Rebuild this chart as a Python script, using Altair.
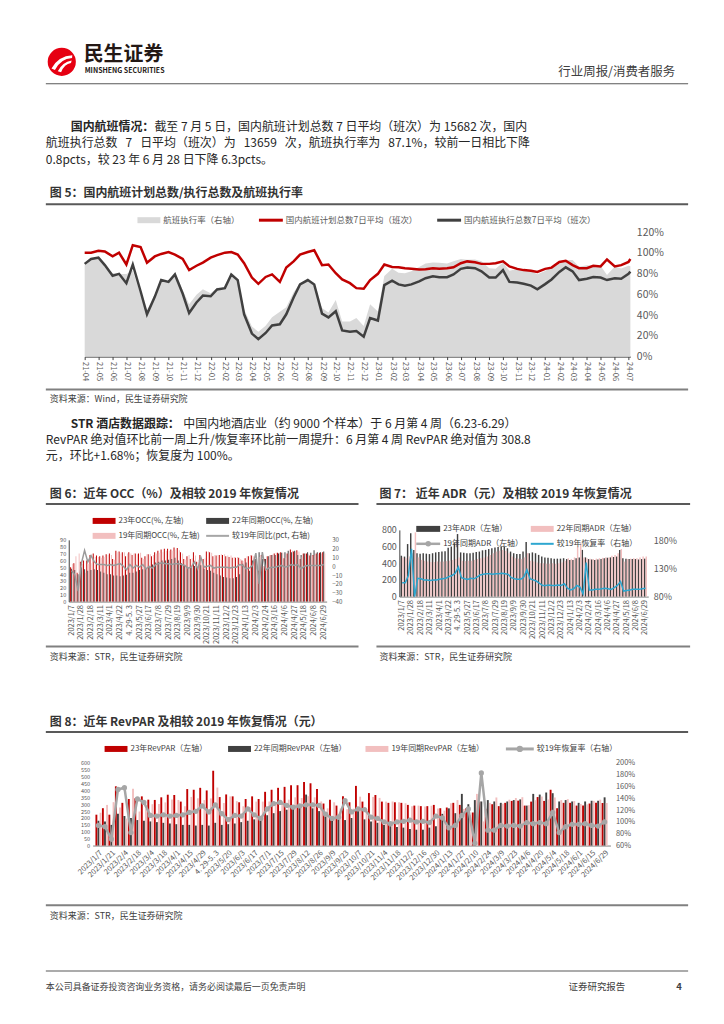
import altair as alt
import pandas as pd

FONT = "Noto Sans CJK SC"
RED = "#C00000"
DARK = "#404040"
PINK = "#F2BFBF"
LGRAY = "#D9D9D9"
LINEGRAY = "#A6A6A6"
BLUE = "#2EA7D0"
TXT = "#262626"
AX = "#595959"
SP = "\u00a0"
NOVIEW = alt.ViewBackground(stroke="transparent", strokeWidth=0, fill="transparent")

# ---------------- Figure 5 data (semi-monthly readings) ----------------
f5_dates = [d.strftime("%Y-%m-%d") for d in pd.date_range("2021-04-01", periods=79, freq="SMS")] + ["2024-07-05"]
f5_plan = [16700, 16700, 17000, 16900, 16100, 16700, 14800, 17900, 17600, 15100,
           16100, 16500, 16800, 16400, 15700, 13900, 14600, 15100, 15900, 16300,
           16700, 16800, 16400, 15000, 12700, 11700, 12800, 13200, 12000, 14300,
           15300, 16400, 16800, 17100, 14700, 14800, 13400, 12400, 11800, 11000,
           10900, 12300, 13300, 14800, 14400, 14350, 14200, 14100, 14000, 14050,
           14200, 14100, 14200, 14350, 15000, 15300, 15150, 14900, 14900, 15000,
           15300, 14500, 14100, 13900, 13800, 13600, 14100, 14300, 15200, 15400,
           14700, 14200, 14200, 14600, 14500, 15600, 14500, 14700, 15200, 15682]
f5_exec = [14900, 15700, 15900, 14700, 13000, 13300, 11800, 14800, 10500, 6800,
           9600, 12300, 12000, 13200, 10100, 7000, 8700, 9800, 9700, 10800,
           11000, 13200, 12300, 6800, 3700, 2800, 3800, 5000, 5200, 6800,
           9500, 11600, 12300, 11600, 6900, 6300, 7300, 4200, 4000, 4100,
           3200, 6200, 5800, 11500, 12200, 11600, 11400, 11600, 12100, 12600,
           12900, 12750, 12750, 13200, 14100, 14300, 14200, 13700, 12700, 12700,
           13900, 12000, 11900, 11700, 11400, 10800, 11650, 12400, 13600, 14350,
           13700, 12300, 12500, 12800, 12700, 12300, 12600, 12500, 13300, 13659]
f5_rate = [89.2, 94.0, 93.5, 87.0, 80.7, 79.6, 79.7, 82.7, 59.7, 45.0,
           59.6, 74.5, 71.4, 80.5, 64.3, 50.4, 59.6, 64.9, 61.0, 66.3,
           65.9, 78.6, 75.0, 45.3, 29.1, 23.9, 29.7, 37.9, 43.3, 47.6,
           62.1, 70.7, 73.2, 67.8, 46.9, 42.6, 54.5, 33.9, 33.9, 37.3,
           29.4, 50.4, 43.6, 77.7, 84.7, 80.8, 80.3, 82.3, 86.4, 89.7,
           90.8, 90.4, 89.8, 92.0, 94.0, 93.5, 93.7, 91.9, 85.2, 84.7,
           90.8, 82.8, 84.4, 84.2, 82.6, 79.4, 82.6, 86.7, 89.5, 93.2,
           93.2, 86.6, 88.0, 87.7, 87.6, 78.8, 86.9, 85.0, 87.5, 87.1]

# ---------------- weekly categories (Fig 6/7/8) ----------------
weeks = []
for i in range(79):
    if i < 18:
        d = pd.Timestamp("2023-01-07") + pd.Timedelta(days=7 * i)
    elif i == 18:
        d = None
    else:
        d = pd.Timestamp("2023-05-13") + pd.Timedelta(days=7 * (i - 19))
    weeks.append("4. 29-5. 3" if d is None else f"{d.year}/{d.month}/{d.day}")

# Fig 6 OCC (%)
occ23 = [50, 56, 42, 58, 60, 60, 68, 70, 67, 66, 67, 69, 70, 62, 74, 73, 72, 66, 72, 68,
         70, 70, 64, 66, 69, 66, 72, 74, 76, 77, 77, 76, 79, 78, 72, 62, 66, 62, 72, 58,
         68, 62, 73, 72, 66, 67, 68, 68, 66, 65, 64, 64, 64, 60, 63, 66, 67, 62, 45, 68,
         62, 66, 68, 70, 71, 72, 63, 70, 76, 73, 75, 62, 70, 70, 67, 68, 70, 71, 72]
occ22 = [48, 46, 40, 50, 47, 45, 46, 47, 46, 44, 42, 40, 40, 38, 38, 37, 38, 39, 42, 42,
         44, 46, 47, 49, 52, 54, 57, 58, 60, 60, 61, 62, 64, 60, 56, 52, 50, 50, 52, 50,
         53, 48, 46, 45, 42, 40, 38, 36, 35, 34, 34, 36, 40, 55, 57, 45, 60, 62, 72, 62,
         62, 66, 68, 68, 70, 71, 72, 74, 72, 74, 68, 68, 70, 72, 71, 75, 72, 72, 73]
occ19 = [55, 66, 70, 55, 42, 55, 56, 65, 65, 64, 65, 68, 68, 61, 72, 70, 72, 70, 70, 70,
         69, 71, 62, 69, 69, 68, 70, 71, 72, 74, 74, 74, 76, 75, 70, 61, 68, 63, 67, 61,
         58, 63, 73, 71, 68, 68, 69, 69, 67, 67, 65, 65, 62, 59, 66, 68, 66, 47, 65, 52,
         66, 68, 69, 71, 71, 71, 64, 70, 74, 72, 73, 65, 70, 69, 66, 67, 69, 70, 70]
occ_pct = [-5, -10, -28, 3, 18, 5, 12, 5, 2, 2, 2, 1, 2, 1, 2, 3, 0, -4, 2, -2,
           1, -1, 2, -3, 0, -2, 2, 3, 4, 3, 3, 2, 3, 3, 2, 1, -2, -1, 5, -3,
           10, -1, 0, 1, -2, -1, -1, -1, -1, -2, -1, -1, 2, 1, -3, -2, 1, 15, -20, 16,
           -4, -2, -1, -1, 0, 1, -1, 0, 2, 1, 2, -3, 0, 1, 1, 1, 1, 1, 2]

# Fig 7 ADR (yuan)
adr23 = [490, 480, 630, 760, 560, 520, 515, 520, 515, 510, 520, 530, 535, 540, 545, 585, 600, 640, 750, 530,
         525, 520, 520, 525, 535, 540, 555, 560, 570, 580, 590, 595, 600, 595, 580, 540, 520, 510, 510, 540,
         655, 520, 530, 520, 500, 480, 470, 465, 460, 455, 455, 455, 460, 450, 440, 440, 460, 470, 560, 470,
         450, 445, 440, 445, 450, 460, 465, 470, 475, 480, 560, 460, 455, 450, 450, 450, 445, 450, 455]
adr22 = [470, 460, 480, 520, 770, 470, 440, 430, 420, 415, 415, 420, 420, 420, 425, 430, 440, 450, 470, 430,
         425, 430, 430, 440, 450, 460, 470, 480, 500, 520, 540, 550, 560, 550, 520, 480, 460, 455, 450, 470,
         520, 430, 420, 410, 400, 400, 395, 395, 400, 395, 400, 410, 430, 460, 450, 470, 600, 640, 470, 460,
         455, 450, 455, 460, 465, 470, 470, 490, 500, 520, 570, 420, 450, 455, 460, 460, 470, 480, 480]
adr_rec = [105, 105, 118, 166, 80, 113, 112, 110, 110, 109, 110, 110, 111, 112, 113, 116, 118, 122, 133, 114,
           112, 111, 113, 112, 115, 119, 120, 121, 121, 120, 121, 121, 122, 121, 120, 114, 112, 111, 111, 115,
           128, 112, 110, 108, 104, 100, 100, 101, 100, 100, 101, 100, 103, 95, 92, 94, 100, 97, 85, 141,
           92, 92, 93, 93, 94, 95, 94, 93, 96, 100, 107, 90, 91, 92, 93, 93, 93, 94, 95]

# Fig 8 RevPAR (yuan)
rev23 = [224, 271, 224, 430, 310, 338, 343, 357, 333, 331, 350, 369, 367, 319, 410, 405, 419, 400, 543, 352,
         371, 357, 314, 338, 357, 338, 390, 405, 419, 426, 438, 438, 462, 452, 410, 305, 333, 290, 357, 314,
         433, 319, 381, 367, 319, 310, 314, 310, 295, 290, 286, 286, 295, 271, 276, 310, 295, 271, 240, 320,
         267, 300, 286, 310, 324, 326, 290, 319, 352, 324, 405, 271, 310, 310, 290, 290, 305, 310, 309]
rev22 = [180, 175, 150, 230, 215, 200, 185, 180, 175, 170, 165, 160, 155, 150, 150, 145, 150, 145, 165, 150,
         155, 160, 170, 180, 190, 200, 220, 235, 250, 260, 270, 280, 370, 270, 250, 210, 200, 190, 185, 200,
         250, 190, 175, 165, 150, 140, 135, 130, 120, 115, 115, 130, 140, 230, 270, 235, 375, 300, 330, 320,
         330, 320, 310, 320, 330, 335, 290, 375, 370, 385, 380, 320, 330, 320, 310, 320, 325, 325, 350]
rev19 = [238, 295, 315, 277, 196, 412, 247, 268, 300, 301, 313, 335, 331, 285, 353, 343, 330, 342, 421, 309,
         357, 322, 285, 277, 319, 319, 320, 309, 315, 333, 350, 345, 358, 350, 320, 270, 314, 269, 263, 268,
         355, 264, 353, 346, 319, 320, 314, 307, 286, 290, 283, 289, 268, 253, 307, 330, 266, 222, 375, 175,
         310, 349, 304, 333, 345, 351, 293, 329, 356, 334, 349, 330, 337, 323, 302, 299, 324, 333, 309]
rev_rec = [94, 92, 71, 155, 158, 82, 139, 133, 111, 110, 112, 110, 111, 112, 116, 118, 127, 117, 129, 114,
           104, 111, 110, 122, 112, 106, 122, 131, 133, 128, 125, 127, 129, 129, 128, 113, 106, 108, 136, 117,
           122, 121, 108, 106, 100, 97, 100, 101, 103, 100, 101, 99, 110, 107, 90, 94, 111, 122, 64, 183,
           86, 86, 94, 93, 94, 93, 99, 97, 99, 97, 116, 82, 92, 96, 96, 97, 94, 93, 100]

# ---------------- helpers for decorations ----------------
one = pd.DataFrame({"d": [0]})


def T(s, x, y, size=12.0, bold=False, color=TXT, align="left", ox=8, oy=8):
    return alt.Chart(one).mark_text(
        text=s, fontSize=size, fontWeight="bold" if bold else "normal", color=color,
        align=align, baseline="middle", font=FONT
    ).encode(x=alt.value(x - ox), y=alt.value(y - oy))


def HR(x1, x2, y, color=AX, w=1.0, ox=8, oy=8):
    return alt.Chart(one).mark_rule(color=color, strokeWidth=w).encode(
        x=alt.value(x1 - ox), x2=alt.value(x2 - ox), y=alt.value(y - oy))


def BOX(x1, x2, y1, y2, color, ox=8, oy=8):
    return alt.Chart(one).mark_rect(color=color).encode(
        x=alt.value(x1 - ox), x2=alt.value(x2 - ox), y=alt.value(y1 - oy), y2=alt.value(y2 - oy))


def DOT(x, y, size, color, shape="circle", ox=8, oy=8):
    return alt.Chart(one).mark_point(shape=shape, filled=True, color=color, size=size,
                                     opacity=1, strokeWidth=0).encode(
        x=alt.value(x - ox), y=alt.value(y - oy))


def spacer(w, h):
    return alt.Chart(one).mark_point(opacity=0).encode(
        x=alt.value(0), y=alt.value(0)).properties(width=w, height=h, view=NOVIEW)


LOGO_PATH = ("M -0.78 0.5 Q -0.25 -0.45 0.8 -0.5 L 0.78 -0.3 Q -0.1 -0.25 -0.52 0.62 Z "
             "M -0.3 0.72 Q 0.05 0.02 0.75 -0.1 L 0.7 0.08 Q 0.2 0.15 -0.05 0.78 Z")

line2 = (f"航班执行总数{SP*3}7{SP*3}日平均（班次）为{SP*3}13659{SP*3}次，航班执行率为{SP*3}87.1%，"
         f"较前一日相比下降")

page_layers = [
    DOT(59, 60, 800, "#E60012"),
    DOT(59, 60, 700, "white", shape=LOGO_PATH),
    T("民生证券", 81, 53, 20, bold=True, color="#231815"),
    T("MINSHENG SECURITIES", 82, 69, 7, bold=True, color="#231815"),
    T("行业周报/消费者服务", 675, 70, 12.5, color=DARK, align="right"),
    HR(43, 688, 82, "#595959", 1.2),
    T("国内航班情况：", 68, 125, 12, bold=True),
    T("截至 7 月 5 日，国内航班计划总数 7 日平均（班次）为 15682 次，国内", 152, 125, 12),
    T(line2, 43, 142, 12),
    T("0.8pcts，较 23 年 6 月 28 日下降 6.3pcts。", 43, 159, 12),
    T("图 5：国内航班计划总数/执行总数及航班执行率", 47, 192, 12, bold=True, color="#333333"),
    HR(43, 688, 203, "#595959", 2),
    BOX(135, 158, 216, 222, LGRAY),
    T("航班执行率（右轴）", 161, 219, 8.5, color=AX),
    HR(257, 281, 219, RED, 3),
    T("国内航班计划总数7日平均（班次）", 284, 219, 8.5, color=AX),
    HR(436, 460, 219, DARK, 3),
    T("国内航班执行总数7日平均（班次）", 463, 219, 8.5, color=AX),
    HR(43, 688, 389, "#808080", 2),
    T("资料来源：Wind，民生证券研究院", 47, 399, 9, color=DARK),
    T("STR 酒店数据跟踪：", 68, 424, 12, bold=True),
    T("中国内地酒店业（约 9000 个样本）于 6 月第 4 周（6.23-6.29）", 181, 424, 12),
    T("RevPAR 绝对值环比前一周上升/恢复率环比前一周提升：6 月第 4 周 RevPAR 绝对值为 308.8", 43, 440, 12),
    T("元，环比+1.68%；恢复度为 100%。", 43, 456, 12),
    T("图 6：近年 OCC（%）及相较 2019 年恢复情况", 47, 494, 12, bold=True, color="#333333"),
    HR(43, 357, 504, "#595959", 2),
    T("图 7：  近年 ADR（元）及相较 2019 年恢复情况", 378, 494, 12, bold=True, color="#333333"),
    HR(375, 690, 504, "#595959", 2),
    BOX(90, 113, 518, 524, RED),
    T("23年OCC(%, 左轴)", 116, 521, 8, color=DARK),
    BOX(204, 227, 518, 524, DARK),
    T("22年同期OCC(%, 左轴)", 230, 521, 8, color=DARK),
    BOX(90, 113, 533, 539, PINK),
    T("19年同期OCC(%, 左轴)", 116, 536, 8, color=DARK),
    HR(204, 227, 536, LINEGRAY, 2),
    T("较19年同比(pct, 右轴)", 230, 536, 8, color=DARK),
    HR(43, 357, 647, "#808080", 2),
    T("资料来源：STR，民生证券研究院", 47, 658, 9, color=DARK),
    HR(375, 690, 647, "#808080", 2),
    T("资料来源：STR，民生证券研究院", 378, 658, 9, color=DARK),
    T("图 8：近年 RevPAR 及相较 2019 年恢复情况（元）", 47, 723, 12, bold=True, color="#333333"),
    HR(43, 688, 733, "#595959", 2),
    BOX(102, 125, 747, 753, RED),
    T("23年RevPAR（左轴）", 128, 750, 8, color=DARK),
    BOX(226, 249, 747, 753, DARK),
    T("22年同期RevPAR（左轴）", 252, 750, 8, color=DARK),
    BOX(364, 387, 747, 753, PINK),
    T("19年同期RevPAR（左轴）", 390, 750, 8, color=DARK),
    HR(505, 533, 750, LINEGRAY, 3),
    DOT(519, 750, 40, LINEGRAY),
    T("较19年恢复率（右轴）", 536, 750, 8, color=DARK),
    HR(43, 688, 907, "#808080", 2),
    T("资料来源：STR，民生证券研究院", 47, 918, 9, color=DARK),
    HR(43, 688, 973, "#595959", 1.2),
    T("本公司具备证券投资咨询业务资格，请务必阅读最后一页免责声明", 43, 989, 9, color=DARK),
    T("证券研究报告", 568, 989, 9.5, color=DARK),
    T("4", 676, 989, 9.5, bold=True, color=DARK),
]
page = alt.layer(*page_layers).properties(width=708, height=223, view=NOVIEW)

# ---------------- Figure 5 ----------------
df5 = pd.DataFrame({"date": f5_dates, "plan": f5_plan, "exec": f5_exec, "rate": f5_rate})
x5 = alt.X("date:T",
           scale=alt.Scale(type="utc", domain=[alt.DateTime(year=2021, month=4, date=1, utc=True),
                                               alt.DateTime(year=2024, month=7, date=5, utc=True)]),
           axis=alt.Axis(format="%y-%m", tickCount={"interval": "month", "step": 1}, labelAngle=90,
                         labelFontSize=7.5, labelColor=AX, domainColor=DARK, tickColor=DARK, tickSize=3,
                         grid=False, title=None, labelOverlap=False, labelPadding=2, labelFlush=False))
area5 = alt.Chart(df5).mark_area(color=LGRAY).encode(
    x=x5,
    y=alt.Y("rate:Q", scale=alt.Scale(domain=[0, 120], nice=False),
            axis=alt.Axis(orient="right", values=list(range(0, 121, 20)), labelExpr="datum.value + '%'",
                          domain=False, ticks=False, grid=False, title=None, labelFontSize=10.5,
                          labelColor=AX, labelPadding=6, labelOverlap=False)))
y5 = alt.Scale(domain=[0, 20000], nice=False)
plan5 = alt.Chart(df5).mark_line(color=RED, strokeWidth=2.5).encode(
    x=x5,
    y=alt.Y("plan:Q", scale=y5,
            axis=alt.Axis(orient="left", values=list(range(0, 20001, 2000)), domainColor=DARK,
                          ticks=False, grid=False, title=None, labelFontSize=8.5, labelColor=DARK,
                          labelPadding=4, labelOverlap=False)))
exec5 = alt.Chart(df5).mark_line(color=DARK, strokeWidth=2.5).encode(
    x=x5, y=alt.Y("exec:Q", scale=y5, axis=None))
fig5 = alt.layer(area5, alt.layer(plan5, exec5)).resolve_scale(y="independent").properties(
    width=548, height=125, view=NOVIEW)


# ---------------- weekly chart helpers ----------------
def xweek(step, angle, size):
    return alt.X("wk:N", sort=weeks, scale=alt.Scale(paddingInner=0, paddingOuter=0.4),
                 axis=alt.Axis(values=weeks[::step], labelAngle=angle, labelFontSize=size, labelColor=AX,
                               domainColor="#7F7F7F", ticks=False, title=None, labelOverlap=False,
                               labelPadding=3, grid=False))


def yleft(field, top, step, size, domain=True):
    return alt.Y(f"{field}:Q", scale=alt.Scale(domain=[0, top], nice=False),
                 axis=alt.Axis(values=list(range(0, top + 1, step)), labelFontSize=size, labelColor=AX,
                               domain=domain, domainColor=DARK, ticks=False, grid=False, title=None,
                               labelPadding=3, labelOverlap=False, labelFlush=False))


def yright(field, lo, hi, vals, size, pct=True):
    ax = dict(orient="right", values=vals, labelFontSize=size, labelColor=AX, domain=False,
              ticks=False, grid=False, title=None, labelPadding=5, labelOverlap=False, labelFlush=False)
    if pct:
        ax["labelExpr"] = "datum.value + '%'"
    return alt.Y(f"{field}:Q", scale=alt.Scale(domain=[lo, hi], nice=False), axis=alt.Axis(**ax))


# ---------------- Figure 6 ----------------
df6 = pd.DataFrame({"wk": weeks, "a": occ23, "b": occ22, "c": occ19, "p": occ_pct})
X6 = xweek(3, -90, 7.5)
bars6 = alt.layer(
    alt.Chart(df6).mark_bar(color=RED, width=1.0, xOffset=-1.05).encode(x=X6, y=yleft("a", 90, 10, 5.6)),
    alt.Chart(df6).mark_bar(color=DARK, width=1.0, xOffset=0).encode(x=X6, y=yleft("b", 90, 10, 5.6)),
    alt.Chart(df6).mark_bar(color=PINK, width=1.0, xOffset=1.05).encode(x=X6, y=yleft("c", 90, 10, 5.6)),
)
line6 = alt.Chart(df6).mark_line(color="#9A9A9A", strokeWidth=1.5).encode(
    x=X6, y=yright("p", -40, 30, list(range(-40, 31, 10)), 6.2, pct=False))
fig6 = alt.layer(bars6, line6).resolve_scale(y="independent").properties(width=259, height=62, view=NOVIEW)

# ---------------- Figure 7 ----------------
df7 = pd.DataFrame({"wk": weeks, "a": adr23, "b": adr22, "r": adr_rec})
X7 = xweek(3, -90, 7.5)
bars7 = alt.layer(
    alt.Chart(df7).mark_bar(color=DARK, width=1.45, xOffset=-0.78).encode(x=X7, y=yleft("a", 800, 200, 9)),
    alt.Chart(df7).mark_bar(color=PINK, width=1.45, xOffset=0.78).encode(x=X7, y=yleft("b", 800, 200, 9)),
)
line7 = alt.Chart(df7).mark_line(color=BLUE, strokeWidth=1.5).encode(
    x=X7, y=yright("r", 80, 200, [80, 130, 180], 9))
O7 = dict(ox=398, oy=530)
legend7 = [
    BOX(415, 439, 526, 532, DARK, **O7), T("23年ADR（左轴）", 442, 529, 8, color=DARK, **O7),
    BOX(530, 553, 526, 532, PINK, **O7), T("22年同期ADR（左轴）", 556, 529, 8, color=DARK, **O7),
    HR(415, 439, 544, LINEGRAY, 2.5, **O7), DOT(427, 544, 30, LINEGRAY, **O7),
    T("19年同期ADR（左轴）", 442, 544, 8, color=DARK, **O7),
    HR(530, 553, 544, BLUE, 2, **O7), T("较19年恢复率（右轴）", 556, 544, 8, color=DARK, **O7),
]
fig7 = alt.layer(bars7, line7, *legend7).resolve_scale(y="independent").properties(
    width=250, height=67, view=NOVIEW)

# ---------------- Figure 8 ----------------
df8 = pd.DataFrame({"wk": weeks, "a": rev23, "b": rev22, "c": rev19, "r": rev_rec})
X8 = xweek(2, -45, 7.5)
bars8 = alt.layer(
    alt.Chart(df8).mark_bar(color=RED, width=1.9, xOffset=-2.1).encode(x=X8, y=yleft("a", 600, 50, 5.6, domain=False)),
    alt.Chart(df8).mark_bar(color=DARK, width=1.9, xOffset=0).encode(x=X8, y=yleft("b", 600, 50, 5.6, domain=False)),
    alt.Chart(df8).mark_bar(color=PINK, width=1.9, xOffset=2.1).encode(x=X8, y=yleft("c", 600, 50, 5.6, domain=False)),
)
line8 = alt.Chart(df8).mark_line(color=LINEGRAY, strokeWidth=2.5,
                                 point=alt.OverlayMarkDef(color=LINEGRAY, size=28, filled=True)).encode(
    x=X8, y=yright("r", 60, 200, list(range(60, 201, 20)), 7.5))
fig8 = alt.layer(bars8, line8).resolve_scale(y="independent").properties(width=520, height=83, view=NOVIEW)

# ---------------- page layout ----------------
# In a flush-bounds concat, nested concat groups occupy no size, so the spacers
# after each nested row carry that row's height as well.
row1 = alt.hconcat(spacer(74, 125), fig5, spacing=0, bounds="flush")          # page y 231
row3 = alt.hconcat(
    spacer(58, 72),
    alt.vconcat(spacer(259, 10), fig6, spacing=0, bounds="flush"),
    spacer(332, 67),
    fig7,
    spacing=0, bounds="flush")                                                 # page y 530
row5 = alt.hconcat(spacer(82, 83), fig8, spacing=0, bounds="flush")           # page y 764

chart = alt.vconcat(
    page, row1, spacer(708, 299), row3, spacer(708, 234), row5,
    spacing=0, bounds="flush"
).properties(padding=0, background="white").configure_view(
    stroke="transparent", strokeWidth=0).configure(font=FONT).configure_axis(labelFont=FONT)

chart.save("out.html", embed_options={"renderer": "svg", "actions": False})
